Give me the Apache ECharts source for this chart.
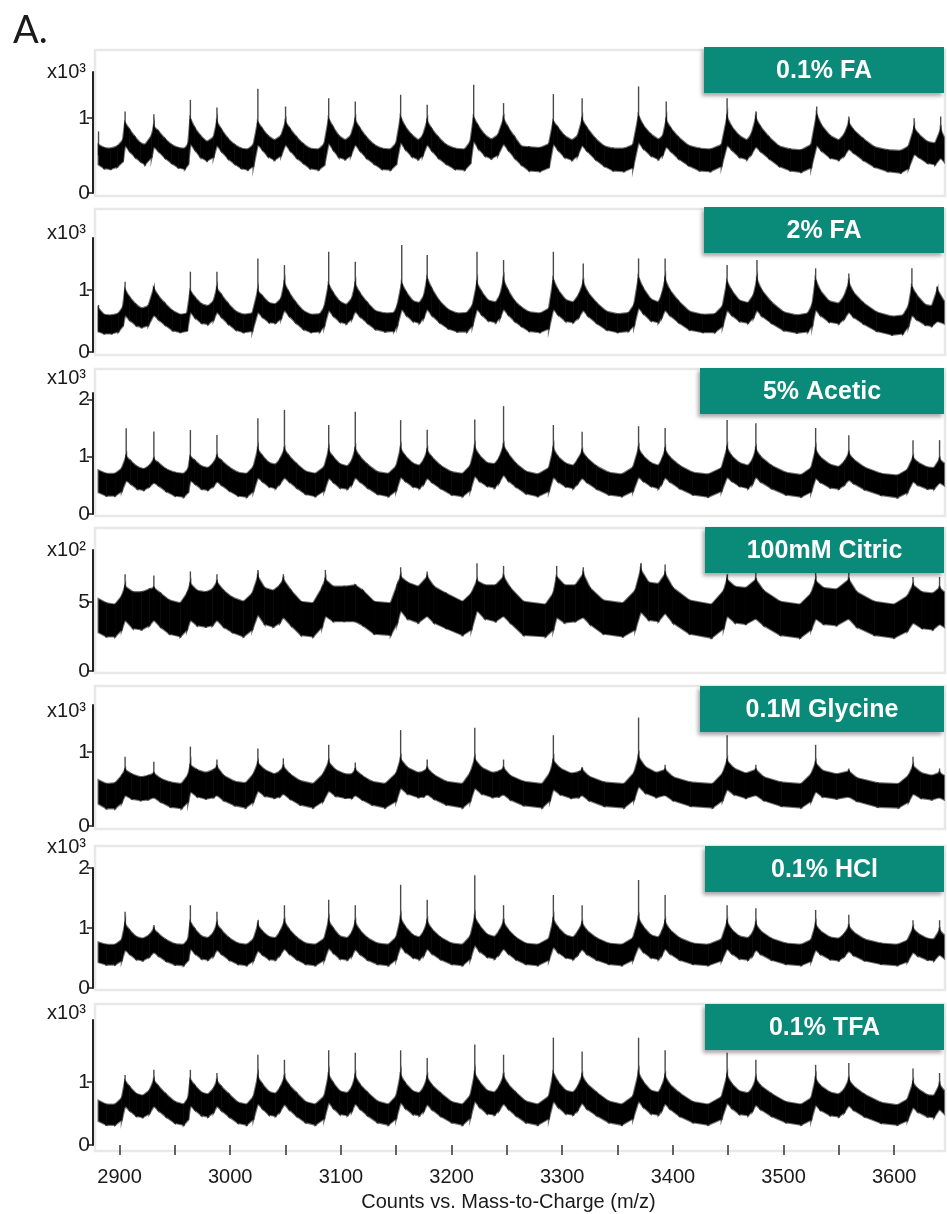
<!DOCTYPE html>
<html lang="en">
<head>
<meta charset="UTF-8">
<title>Spectra</title>
<script src="https://cdn.jsdelivr.net/npm/echarts@6/dist/echarts.min.js"></script>
<style>html,body{margin:0;padding:0;background:#fff}</style>
</head>
<body>
<div id="chart" style="width:947px;height:1214px"></div>
<script>
// panel names and axis scales
var names = ['0.1% FA', '2% FA', '5% Acetic', '100mM Citric', '0.1M Glycine', '0.1% HCl', '0.1% TFA'];
var units = ['x10\u00b3', 'x10\u00b3', 'x10\u00b3', 'x10\u00b2', 'x10\u00b3', 'x10\u00b3', 'x10\u00b3'];
var yDiv = [1000, 1000, 1000, 100, 1000, 1000, 1000];
var yMax = [1610, 1840, 2110, 875, 1640, 2000, 1980];
var yTicks = [[0, 1000], [0, 1000], [0, 1000, 2000], [0, 500], [0, 1000], [0, 1000, 2000], [0, 1000]];
var xTicks = [2900, 2950, 3000, 3050, 3100, 3150, 3200, 3250, 3300, 3350, 3400, 3450, 3500, 3550, 3600];
var xLabels = [2900, 3000, 3100, 3200, 3300, 3400, 3500, 3600];

// noise band of each spectrum: [m/z, low, high] counts
var band1 = [[2881,380,640],[2886,330,600],[2892,320,590],[2898,350,620],[2903,420,700],[2905,640,930],[2909,560,840],[2914,480,740],[2919,420,660],[2923,380,640],[2929,480,760],[2931,620,880],[2935,560,820],[2941,470,720],[2947,400,640],[2953,340,600],[2959,320,590],[2962,380,650],[2964,660,980],[2968,580,860],[2973,480,760],[2979,430,680],[2985,480,740],[2988,640,940],[2992,560,840],[2998,460,720],[3004,390,640],[3010,330,590],[3016,310,580],[3021,360,640],[3025,650,940],[3029,580,850],[3034,490,760],[3040,440,700],[3046,500,760],[3050,650,940],[3054,570,850],[3060,470,740],[3066,400,650],[3072,330,590],[3080,310,580],[3085,370,650],[3089,670,980],[3093,580,870],[3098,480,760],[3104,450,700],[3109,500,760],[3113,650,960],[3117,570,860],[3123,470,740],[3130,390,640],[3137,320,590],[3145,310,580],[3150,380,660],[3154,680,1000],[3158,590,880],[3164,490,770],[3170,450,700],[3174,500,760],[3178,650,950],[3182,570,850],[3188,470,740],[3195,390,640],[3203,320,590],[3212,310,580],[3217,390,680],[3220,700,1000],[3224,600,890],[3230,500,770],[3236,460,710],[3242,510,770],[3247,660,980],[3251,580,870],[3257,470,740],[3263,380,620],[3270,300,610],[3280,290,600],[3288,340,650],[3292,660,950],[3296,580,870],[3302,480,760],[3309,440,700],[3314,500,760],[3318,640,970],[3322,570,870],[3330,450,720],[3338,360,620],[3346,300,590],[3356,290,590],[3364,340,640],[3369,680,1020],[3373,600,900],[3380,500,780],[3387,450,710],[3391,510,760],[3394,620,960],[3398,560,860],[3405,460,740],[3414,370,630],[3424,300,590],[3434,290,580],[3444,360,640],[3449,640,1000],[3453,580,880],[3460,480,760],[3467,450,700],[3471,520,780],[3475,620,990],[3479,560,880],[3487,460,740],[3496,360,620],[3506,300,580],[3516,280,570],[3525,340,640],[3530,640,1040],[3534,570,900],[3542,470,760],[3550,440,700],[3555,500,780],[3559,590,930],[3563,540,840],[3572,440,720],[3582,350,610],[3594,290,570],[3606,270,560],[3613,330,620],[3618,520,860],[3622,480,780],[3630,400,680],[3637,380,660],[3642,470,840],[3645,420,740]];
var band2 = [[2881,330,700],[2886,300,600],[2893,300,590],[2899,330,620],[2903,420,720],[2905,600,1000],[2909,520,880],[2915,430,760],[2920,400,700],[2926,430,740],[2931,600,1020],[2935,530,900],[2941,440,780],[2948,350,660],[2955,320,600],[2961,340,620],[2964,650,980],[2968,560,880],[2974,470,770],[2980,450,740],[2985,520,820],[2988,650,1020],[2992,570,920],[2998,460,780],[3005,360,650],[3012,320,600],[3020,340,620],[3025,650,980],[3029,570,900],[3035,480,790],[3041,470,770],[3046,540,860],[3049,680,1100],[3053,590,960],[3059,480,800],[3066,370,660],[3073,320,600],[3081,330,610],[3085,420,720],[3089,680,1080],[3093,590,950],[3099,490,810],[3105,460,760],[3110,540,860],[3113,660,1080],[3117,580,950],[3124,470,790],[3131,370,660],[3140,330,620],[3148,340,630],[3151,430,740],[3155,700,1100],[3159,600,960],[3165,500,820],[3171,470,790],[3175,560,900],[3178,700,1180],[3182,600,1020],[3189,480,820],[3197,380,680],[3205,330,620],[3214,330,630],[3219,430,750],[3223,700,1100],[3227,610,970],[3233,510,830],[3240,480,800],[3244,560,920],[3247,700,1150],[3251,610,990],[3257,500,820],[3263,420,720],[3270,340,640],[3280,320,620],[3288,380,700],[3292,700,1160],[3296,610,1000],[3303,500,840],[3310,480,800],[3315,560,920],[3319,680,1110],[3323,590,960],[3331,470,790],[3340,360,650],[3350,320,610],[3360,340,630],[3365,430,760],[3369,720,1190],[3373,630,1030],[3380,510,850],[3387,480,800],[3390,560,920],[3393,680,1160],[3397,600,1000],[3405,480,820],[3415,360,650],[3427,320,600],[3438,320,610],[3445,420,740],[3449,680,1130],[3453,600,990],[3460,500,830],[3468,470,790],[3473,560,920],[3476,680,1160],[3480,590,1000],[3489,470,800],[3500,350,640],[3512,310,590],[3522,330,620],[3526,430,760],[3529,690,1160],[3533,600,990],[3541,490,820],[3550,460,780],[3555,540,900],[3559,650,1110],[3563,570,960],[3572,460,790],[3584,340,640],[3598,280,570],[3608,300,590],[3613,420,740],[3616,600,1050],[3620,530,920],[3628,440,760],[3634,420,740],[3639,500,1000],[3645,460,820]];
var band3 = [[2881,380,760],[2888,320,700],[2896,320,700],[2902,400,790],[2906,590,1000],[2910,530,920],[2916,440,820],[2922,420,780],[2927,480,840],[2931,550,950],[2935,500,890],[2942,400,780],[2950,320,720],[2958,300,700],[2962,380,780],[2964,590,1000],[2968,530,930],[2974,440,830],[2980,420,800],[2985,490,890],[2988,570,1000],[2992,510,930],[2999,410,810],[3007,320,720],[3015,300,700],[3021,400,820],[3025,640,1120],[3029,570,1010],[3035,480,890],[3041,450,860],[3045,530,950],[3049,640,1120],[3053,570,1010],[3060,460,870],[3068,350,740],[3077,310,700],[3085,410,820],[3089,630,1100],[3093,560,990],[3099,460,870],[3106,440,830],[3110,520,930],[3113,640,1120],[3117,570,1000],[3124,460,860],[3133,350,730],[3143,310,700],[3150,410,830],[3154,650,1130],[3158,580,1010],[3165,480,880],[3171,450,840],[3175,530,940],[3178,630,1100],[3182,560,990],[3190,450,840],[3200,340,730],[3210,310,700],[3217,420,840],[3221,670,1150],[3225,580,1020],[3232,490,890],[3239,460,870],[3243,550,970],[3247,690,1180],[3251,590,1050],[3258,480,880],[3267,360,740],[3278,310,690],[3288,400,800],[3292,650,1130],[3296,570,1000],[3303,480,880],[3310,450,840],[3314,530,940],[3318,630,1090],[3322,560,980],[3331,440,830],[3342,340,720],[3354,310,690],[3364,400,810],[3369,650,1130],[3373,580,1010],[3380,490,890],[3387,450,840],[3390,530,940],[3393,640,1110],[3397,570,990],[3406,450,840],[3418,340,720],[3432,300,690],[3444,400,800],[3449,650,1140],[3453,580,1010],[3460,490,890],[3468,450,840],[3472,530,940],[3475,650,1120],[3479,570,1000],[3489,450,840],[3502,340,720],[3516,300,680],[3525,390,800],[3529,630,1110],[3533,560,990],[3542,460,860],[3550,440,820],[3555,510,910],[3559,600,1050],[3563,540,950],[3573,430,810],[3588,330,700],[3603,290,670],[3612,380,770],[3617,570,980],[3621,510,900],[3630,440,810],[3636,440,800],[3641,550,950],[3645,500,880]];
var band4 = [[2881,280,520],[2888,250,490],[2896,250,480],[2902,300,540],[2905,370,610],[2912,310,570],[2920,300,570],[2927,330,590],[2931,370,600],[2937,320,560],[2945,270,510],[2955,250,490],[2961,300,560],[2964,370,630],[2970,330,580],[2978,320,570],[2984,330,590],[2988,370,640],[2994,320,580],[3002,280,530],[3012,250,500],[3020,300,560],[3025,410,680],[3031,340,600],[3039,320,580],[3045,350,620],[3048,390,660],[3055,330,580],[3064,260,500],[3075,250,490],[3083,320,600],[3086,400,660],[3093,360,610],[3103,360,610],[3113,360,620],[3120,330,580],[3130,270,500],[3145,260,490],[3151,350,620],[3154,440,680],[3160,380,640],[3170,350,610],[3178,400,680],[3184,350,610],[3195,310,560],[3210,260,500],[3218,300,560],[3223,440,650],[3230,380,620],[3240,360,620],[3247,400,680],[3253,350,600],[3265,260,500],[3285,250,480],[3292,300,560],[3295,390,680],[3302,350,620],[3312,360,620],[3319,390,700],[3325,340,600],[3337,270,510],[3355,250,490],[3366,300,580],[3371,430,730],[3378,370,640],[3387,360,630],[3393,420,700],[3400,350,600],[3415,270,510],[3435,240,480],[3446,310,580],[3449,400,660],[3456,350,610],[3466,340,600],[3475,380,660],[3482,330,580],[3497,260,500],[3515,240,480],[3525,300,560],[3529,380,650],[3536,340,600],[3548,330,590],[3559,380,660],[3566,320,570],[3582,260,500],[3600,240,480],[3612,290,540],[3617,350,620],[3625,310,570],[3635,300,560],[3641,340,600],[3645,320,570]];
var band5 = [[2881,300,620],[2888,240,570],[2896,240,580],[2902,320,680],[2905,420,760],[2911,370,700],[2919,350,660],[2926,360,680],[2931,390,710],[2937,330,640],[2946,260,590],[2956,240,570],[2962,330,690],[2964,470,820],[2970,400,760],[2978,370,720],[2985,390,760],[2988,420,800],[2994,350,680],[3004,280,600],[3014,250,580],[3021,330,700],[3025,480,850],[3031,410,760],[3040,380,700],[3045,400,740],[3048,440,800],[3054,370,700],[3063,290,610],[3075,250,570],[3084,340,700],[3089,480,860],[3095,410,760],[3104,380,700],[3110,380,700],[3113,420,760],[3119,360,680],[3128,290,600],[3140,250,570],[3150,340,710],[3154,520,900],[3160,440,790],[3170,390,720],[3175,400,740],[3178,430,780],[3184,370,690],[3195,290,600],[3210,250,570],[3217,340,720],[3221,520,900],[3227,440,790],[3237,390,720],[3243,400,740],[3247,430,780],[3253,360,680],[3265,280,600],[3282,250,570],[3289,350,720],[3292,500,880],[3298,430,780],[3308,380,710],[3315,390,730],[3318,420,760],[3324,350,670],[3338,270,590],[3356,250,570],[3365,360,720],[3369,540,930],[3375,450,800],[3385,390,720],[3393,420,760],[3400,350,660],[3416,270,590],[3436,250,570],[3445,350,710],[3449,500,880],[3455,430,780],[3466,380,710],[3475,420,760],[3482,350,660],[3498,270,590],[3516,250,570],[3525,340,700],[3529,470,850],[3535,400,750],[3548,370,700],[3559,400,740],[3566,340,650],[3585,260,580],[3604,250,570],[3613,330,680],[3617,440,810],[3624,380,720],[3634,360,680],[3641,390,720],[3645,360,680]];
var band6 = [[2881,430,760],[2888,390,720],[2896,390,720],[2902,460,800],[2905,640,1060],[2909,570,960],[2915,480,850],[2921,460,820],[2927,520,880],[2931,600,980],[2935,540,900],[2942,450,800],[2950,390,730],[2958,380,720],[2962,460,810],[2964,660,1090],[2968,580,980],[2974,490,860],[2980,470,830],[2985,540,920],[2988,640,1060],[2992,570,960],[2999,470,830],[3007,400,740],[3015,380,720],[3021,460,810],[3025,630,1040],[3029,560,940],[3035,480,850],[3041,470,830],[3045,550,930],[3049,660,1100],[3053,580,980],[3060,480,840],[3068,400,740],[3077,380,720],[3085,470,820],[3089,670,1110],[3093,590,990],[3099,490,860],[3106,470,830],[3110,540,920],[3113,650,1080],[3117,570,960],[3124,470,830],[3133,400,740],[3143,380,720],[3150,480,840],[3154,700,1150],[3158,610,1020],[3165,510,880],[3171,480,840],[3175,550,940],[3178,660,1100],[3182,580,980],[3190,480,840],[3200,400,740],[3210,380,720],[3217,490,860],[3221,720,1170],[3225,620,1040],[3232,520,890],[3239,490,850],[3243,560,940],[3247,660,1090],[3251,580,970],[3258,480,840],[3267,400,740],[3278,380,720],[3288,470,820],[3292,690,1130],[3296,600,1010],[3303,510,880],[3310,480,840],[3314,550,930],[3318,650,1070],[3322,570,960],[3331,470,830],[3342,400,740],[3354,380,720],[3364,470,830],[3369,700,1150],[3373,610,1020],[3380,510,880],[3387,480,840],[3390,550,930],[3393,660,1090],[3397,580,970],[3406,470,830],[3418,400,740],[3432,380,720],[3444,460,810],[3449,660,1090],[3453,580,970],[3460,490,860],[3468,470,830],[3472,540,910],[3475,640,1060],[3479,570,950],[3489,470,820],[3502,400,740],[3516,380,720],[3525,450,800],[3529,640,1050],[3533,570,950],[3542,480,840],[3550,460,820],[3555,530,900],[3559,620,1020],[3563,550,930],[3573,460,810],[3588,400,740],[3603,380,720],[3612,440,790],[3617,600,990],[3621,540,910],[3630,470,820],[3636,460,810],[3641,560,960],[3645,500,880]];
var band7 = [[2881,380,700],[2888,320,640],[2896,320,640],[2902,400,740],[2905,620,1010],[2909,550,920],[2915,460,810],[2921,440,780],[2927,500,860],[2931,620,1020],[2935,550,930],[2942,450,800],[2950,350,680],[2958,320,640],[2962,400,740],[2964,630,1030],[2968,560,940],[2974,470,830],[2980,450,800],[2985,520,890],[2988,620,1010],[2992,550,920],[2999,450,800],[3007,350,670],[3015,320,640],[3021,410,760],[3025,660,1070],[3029,580,960],[3035,480,840],[3041,460,810],[3045,530,900],[3049,650,1060],[3053,570,950],[3060,460,820],[3068,360,680],[3077,320,640],[3085,420,770],[3089,680,1100],[3093,590,980],[3099,490,850],[3106,470,820],[3110,540,910],[3113,660,1080],[3117,580,960],[3124,470,830],[3133,360,690],[3143,320,640],[3150,420,770],[3154,680,1100],[3158,590,980],[3165,490,850],[3171,470,820],[3175,540,910],[3178,650,1060],[3182,570,950],[3190,460,820],[3200,360,680],[3210,320,640],[3217,430,780],[3221,700,1120],[3225,610,1000],[3232,500,860],[3239,480,830],[3243,550,920],[3247,660,1080],[3251,580,960],[3258,470,830],[3267,360,690],[3278,320,640],[3288,420,770],[3292,700,1130],[3296,610,1000],[3303,500,860],[3310,480,830],[3314,550,920],[3318,670,1090],[3322,580,970],[3331,470,830],[3342,360,690],[3354,320,640],[3364,420,770],[3369,700,1130],[3373,610,1000],[3380,500,860],[3387,480,830],[3390,550,920],[3393,660,1080],[3397,580,960],[3406,460,820],[3418,360,680],[3432,320,640],[3444,410,760],[3449,670,1090],[3453,590,970],[3460,490,850],[3468,470,820],[3472,540,900],[3475,640,1040],[3479,570,940],[3489,460,810],[3502,360,680],[3516,320,640],[3525,400,740],[3529,640,1040],[3533,560,940],[3542,470,830],[3550,450,800],[3555,520,880],[3559,630,1030],[3563,560,930],[3573,450,800],[3588,350,670],[3603,320,630],[3612,390,720],[3617,600,980],[3621,530,890],[3630,450,790],[3636,440,780],[3641,570,950],[3645,500,860]];

// tallest single scans above each peak: [m/z, from, to] counts
var spikes1 = [[2881,500,820],[2905,640,1085],[2931,620,1049],[2964,660,1240],[2988,640,1138],[3025,650,1387],[3050,650,1151],[3089,670,1262],[3113,650,1218],[3154,680,1307],[3178,650,1173],[3220,700,1440],[3247,660,1196],[3292,660,1316],[3318,640,1262],[3369,680,1418],[3394,620,1218],[3449,640,1262],[3475,620,1085],[3530,640,1151],[3559,590,1018],[3618,520,996],[3642,470,1018]];
var spikes2 = [[2881,330,760],[2905,600,1134],[2931,600,1054],[2964,650,1296],[2988,650,1296],[3025,650,1511],[3049,680,1403],[3089,680,1618],[3113,660,1457],[3155,700,1726],[3178,700,1565],[3223,700,1618],[3247,700,1484],[3292,700,1618],[3319,680,1430],[3369,720,1511],[3393,680,1511],[3449,680,1403],[3476,680,1484],[3529,690,1350],[3559,650,1269],[3616,600,1350],[3639,500,1054]];
var spikes3 = [[2906,590,1495],[2931,550,1437],[2964,590,1466],[2988,570,1379],[3025,640,1670],[3049,640,1815],[3089,630,1552],[3113,640,1785],[3154,650,1637],[3178,630,1468],[3221,670,1647],[3247,690,1880],[3292,650,1552],[3318,630,1436],[3369,650,1531],[3393,640,1500],[3449,650,1637],[3475,650,1584],[3529,630,1500],[3559,600,1373],[3617,570,1288],[3641,550,1288]];
var spikes4 = [[2905,370,700],[2931,370,690],[2964,370,720],[2988,370,700],[3025,410,730],[3048,390,700],[3086,400,730],[3154,440,750],[3178,400,720],[3223,440,780],[3247,400,760],[3295,390,760],[3319,390,750],[3371,430,780],[3393,420,770],[3449,400,700],[3475,380,710],[3529,380,720],[3559,380,730],[3617,350,680],[3641,340,680]];
var spikes5 = [[2905,420,940],[2931,390,870],[2964,470,1076],[2988,420,900],[3025,480,1050],[3048,440,917],[3089,480,1100],[3113,420,860],[3154,520,1300],[3178,430,900],[3221,520,1330],[3247,430,900],[3292,500,1230],[3318,420,800],[3369,540,1470],[3393,420,830],[3449,500,1230],[3475,420,830],[3529,470,1100],[3559,400,780],[3617,440,940],[3641,390,780]];
var spikes6 = [[2905,640,1270],[2931,600,1050],[2964,660,1380],[2988,640,1270],[3025,630,1130],[3049,660,1380],[3089,670,1470],[3113,650,1380],[3154,700,1720],[3178,660,1470],[3221,720,1880],[3247,660,1380],[3292,690,1550],[3318,650,1380],[3369,700,1800],[3393,660,1550],[3449,660,1380],[3475,640,1330],[3529,640,1300],[3559,620,1220],[3617,600,1130],[3641,560,1130]];
var spikes7 = [[2905,620,1110],[2931,620,1190],[2964,630,1190],[2988,620,1140],[3025,660,1430],[3049,650,1350],[3089,680,1500],[3113,660,1460],[3154,680,1500],[3178,650,1380],[3221,700,1590],[3247,660,1430],[3292,700,1700],[3318,670,1480],[3369,700,1700],[3393,660,1500],[3449,670,1460],[3475,640,1350],[3529,640,1270],[3559,630,1300],[3617,600,1210],[3641,570,1140]];

var bands = [band1, band2, band3, band4, band5, band6, band7];
var spikes = [spikes1, spikes2, spikes3, spikes4, spikes5, spikes6, spikes7];

// page layout (px): zero line y, axis top y, frame top, frame bottom, label box left, label box top,
// unit label shift (positive = down)
var layout = [
    [193, 72, 50, 196, 704, 47, 0],
    [352, 238, 209, 355, 704, 207, -5],
    [514, 393, 369, 516, 700, 368, 11],
    [671, 550, 528, 673, 705, 527, 0],
    [826, 705, 686, 829, 700, 686, 6],
    [988, 868, 846, 990, 705, 846, 6],
    [1145, 1020, 1004, 1151, 705, 1004, -7]
];
var FONT = '"Liberation Sans", Arial, sans-serif';

var chart = echarts.init(document.getElementById('chart'));
var grids = [], xAxes = [], yAxes = [], series = [], graphics = [];

function tickFormatter(div) {
    return function (v) { return String(Math.round(v / div)); };
}

// one quad per pair of neighbouring band points
function renderBand(params, api) {
    var a0 = api.coord([api.value(0), api.value(1)]);
    var a1 = api.coord([api.value(0), api.value(2)]);
    var b1 = api.coord([api.value(3), api.value(5)]);
    var b0 = api.coord([api.value(3), api.value(4)]);
    return {
        type: 'polygon',
        shape: {points: [a0, a1, b1, b0]},
        style: {fill: '#000', stroke: 'rgba(0,0,0,0.55)', lineWidth: 2.2}
    };
}

function renderSpike(params, api) {
    var p0 = api.coord([api.value(0), api.value(1)]);
    var p1 = api.coord([api.value(0), api.value(2)]);
    return {type: 'line', shape: {x1: p0[0], y1: p0[1], x2: p1[0], y2: p1[1]},
        style: {stroke: '#4a4a4a', lineWidth: 1.4}};
}

for (var i = 0; i < 7; i++) {
    var L = layout[i];
    var last = i === 6;
    var shift = L[6];
    grids.push({left: 93, right: 3, top: L[1], height: L[0] - L[1], outerBoundsMode: 'none', containLabel: false});
    xAxes.push({
        type: 'value', gridIndex: i, min: 2876, max: 3645, show: last, offset: last ? 6 : 0,
        splitLine: {show: false},
        axisLine: {show: false},
        axisTick: {show: true, inside: false, length: 10, customValues: xTicks, lineStyle: {color: '#333', width: 1.5}},
        axisLabel: {customValues: xLabels, margin: 16, color: '#1a1a1a', fontSize: 20, fontFamily: FONT,
            formatter: function (v) { return String(v); }},
        name: last ? 'Counts vs. Mass-to-Charge (m/z)' : '',
        nameLocation: 'middle', nameGap: 41,
        nameTextStyle: {color: '#1a1a1a', fontSize: 20, fontFamily: FONT, padding: [0, 20, 0, 0]}
    });
    yAxes.push({
        type: 'value', gridIndex: i, min: 0, max: yMax[i],
        splitLine: {show: false},
        axisLine: {show: true, lineStyle: {color: '#222', width: 2}},
        axisTick: {show: true, inside: false, length: 6, customValues: yTicks[i], lineStyle: {color: '#222', width: 1.5}},
        axisLabel: {customValues: yTicks[i], formatter: tickFormatter(yDiv[i]), margin: 3,
            color: '#1a1a1a', fontSize: 21, fontFamily: FONT},
        name: units[i], nameLocation: 'end',
        nameGap: shift > 0 ? Math.max(10 - shift, 0) : -shift,
        nameTextStyle: {align: 'right', verticalAlign: shift > 0 ? 'top' : 'middle', padding: [0, 7, 2, 0],
            color: '#1a1a1a', fontSize: 20, fontFamily: FONT}
    });

    var b = bands[i];
    var quads = [];
    for (var k = 1; k < b.length; k++) {
        quads.push([b[k - 1][0], b[k - 1][1], b[k - 1][2], b[k][0], b[k][1], b[k][2]]);
    }
    series.push({
        type: 'custom', xAxisIndex: i, yAxisIndex: i, z: 1, silent: true, clip: false,
        data: spikes[i], encode: {x: 0, y: [1, 2]},
        renderItem: renderSpike
    });
    series.push({
        type: 'custom', xAxisIndex: i, yAxisIndex: i, z: 2, silent: true, clip: false,
        data: quads, encode: {x: [0, 3], y: [1, 2, 4, 5]},
        renderItem: renderBand
    });

    // light frame round the panel
    graphics.push({
        type: 'rect', z: -10, silent: true,
        shape: {x: 95, y: L[2], width: 850, height: L[3] - L[2]},
        style: {fill: 'none', stroke: '#e8e8e8', lineWidth: 2.5}
    });
    // teal label box
    graphics.push({
        type: 'rect', z: 100, silent: true,
        shape: {x: L[4], y: L[5], width: 944 - L[4], height: 46},
        style: {fill: '#0a8a79', shadowBlur: 4, shadowOffsetX: -2, shadowOffsetY: 3, shadowColor: 'rgba(0,0,0,0.35)'}
    });
    graphics.push({
        type: 'text', z: 101, silent: true,
        x: (L[4] + 944) / 2, y: L[5] + 24,
        style: {text: names[i], fill: '#fff', font: 'bold 25px ' + FONT, textAlign: 'center', textVerticalAlign: 'middle'}
    });
}

graphics.push({
    type: 'text', left: 13, top: 12, silent: true,
    style: {text: 'A.', fill: '#1a1a1a', font: '38px Lato, "Noto Sans", sans-serif'}
});

chart.setOption({
    animation: false,
    backgroundColor: '#fff',
    grid: grids,
    xAxis: xAxes,
    yAxis: yAxes,
    series: series,
    graphic: {elements: graphics}
});
</script>
</body>
</html>
